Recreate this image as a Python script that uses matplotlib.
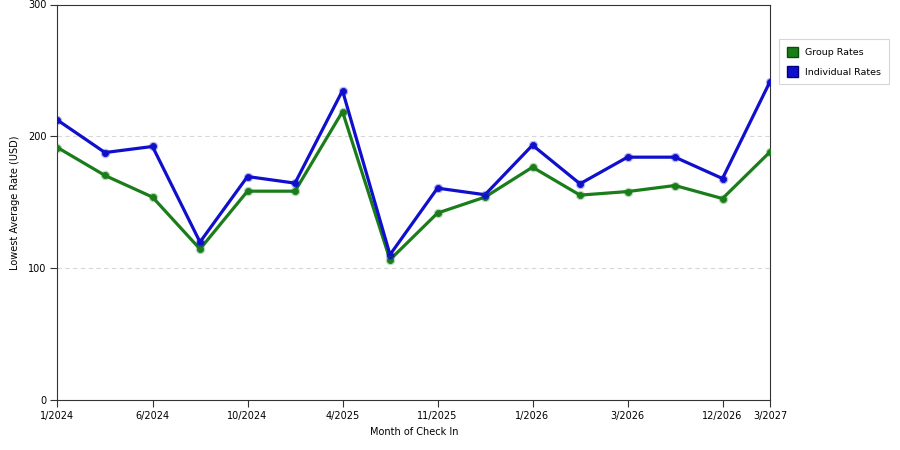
import numpy as np
import matplotlib.pyplot as plt
from matplotlib.patches import Patch

# Data
months = ['1/2024', '', '6/2024', '', '10/2024', '', '4/2025', '',
          '11/2025', '', '1/2026', '', '3/2026', '', '12/2026', '3/2027']
group_rates = [191.5, 170.3, 153.9, 114.5, 158.4, 158.4, 218.8, 106.4,
               141.8, 153.9, 176.6, 155.4, 158.1, 162.7, 152.8, 188.2]
individual_rates = [212.3, 187.7, 192.3, 119.8, 169.5, 164.5, 234.7, 110.2,
                    160.7, 155.7, 193.3, 164.0, 184.2, 184.2, 168.0, 241.5]
y_ticks = [0, 100, 200, 300]

green = '#1a7d1a'
blue = '#1010cc'

fig = plt.figure(figsize=(9, 4.5), dpi=100)
ax = fig.add_axes([57.5 / 900, 50 / 450, (770 - 57.5) / 900, (400 - 4.5) / 450])

x = np.arange(len(months))
for vals, col in [(group_rates, green), (individual_rates, blue)]:
    ax.plot(x, vals, color=col, linewidth=2.3, zorder=3,
            marker='o', markersize=4.5, markerfacecolor=col,
            markeredgecolor=col, markeredgewidth=0.6)
    # light halo around the points
    ax.plot(x, vals, linestyle='none', marker='o', markersize=6,
            markerfacecolor='none', markeredgecolor=col, alpha=0.3,
            markeredgewidth=0.8, zorder=4)

ax.set_xlim(0, len(months) - 1)
ax.set_ylim(0, 300)
ax.set_yticks(y_ticks)
ax.set_yticklabels([str(v) for v in y_ticks], fontsize=7)

tick_pos = [i for i, m in enumerate(months) if m]
ax.set_xticks(tick_pos)
ax.set_xticklabels([months[i] for i in tick_pos], fontsize=7)
ax.tick_params(axis='both', length=5, width=0.8, color='#333333', pad=3)

for v in y_ticks[1:-1]:
    ax.axhline(v, color='#d8d8d8', linestyle=(0, (4, 3)), linewidth=0.8, zorder=1)

for s in ax.spines.values():
    s.set_color('#333333')
    s.set_linewidth(0.8)

ax.set_xlabel('Month of Check In', fontsize=7, labelpad=4)
ax.set_ylabel('Lowest Average Rate (USD)', fontsize=7, labelpad=6)

handles = [Patch(facecolor=green, edgecolor='#0a4d0a', label='Group Rates'),
           Patch(facecolor=blue, edgecolor='#00007a', label='Individual Rates')]
leg = fig.legend(handles=handles, loc='upper left',
                 bbox_to_anchor=(779 / 900, 1 - 39 / 450), fontsize=6.8,
                 frameon=True, fancybox=False, handlelength=1.2,
                 handleheight=1.3, handletextpad=0.75, borderpad=0.8,
                 labelspacing=1.0, borderaxespad=0)
leg.get_frame().set_edgecolor('#cccccc')
leg.get_frame().set_linewidth(0.8)

plt.savefig('out.png', dpi=100)
